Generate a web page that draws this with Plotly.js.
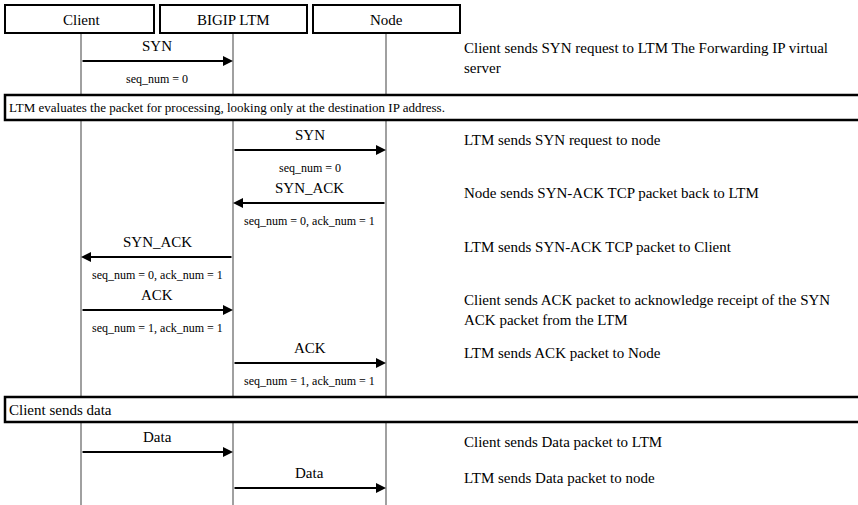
<!DOCTYPE html>
<html>
<head>
<meta charset="utf-8">
<script src="https://cdn.plot.ly/plotly-3.0.1.min.js"></script>
<style>html,body{margin:0;padding:0;background:#fff;}#chart{width:858px;height:505px;}</style>
</head>
<body>
<div id="chart"></div>
<script>
// ---- data ----
const participants = ["Client", "BIGIP LTM", "Node"];
const msgFrom = [0, 1, 2, 1, 0, 1, 0, 1];
const msgTo = [1, 2, 1, 0, 1, 2, 1, 2];
const msgLabels = ["SYN", "SYN", "SYN_ACK", "SYN_ACK", "ACK", "ACK", "Data", "Data"];
const msgParams = ["seq_num = 0", "seq_num = 0", "seq_num = 0, ack_num = 1", "seq_num = 0, ack_num = 1",
  "seq_num = 1, ack_num = 1", "seq_num = 1, ack_num = 1", "", ""];
const descriptions = [
  "Client sends SYN request to LTM The Forwarding IP virtual<br>server",
  "LTM sends SYN request to node",
  "Node sends SYN-ACK TCP packet back to LTM",
  "LTM sends SYN-ACK TCP packet to Client",
  "Client sends ACK packet to acknowledge receipt of the SYN<br>ACK packet from the LTM",
  "LTM sends ACK packet to Node",
  "Client sends Data packet to LTM",
  "LTM sends Data packet to node"
];
const notes = ["LTM evaluates the packet for processing, looking only at the destination IP address.", "Client sends data"];

// ---- layout (pixel geometry) ----
const W = 858, H = 505;
const laneX = [81, 233, 386];
const headBox = [[5, 154], [160, 307], [313, 460]];
const headTop = 5, headBottom = 33;
const arrowY = [61, 150, 203, 257, 310, 363, 452, 488];
const labelDy = -15, paramDy = 18;
const descY = [58, 140, 193, 247, 310, 353, 442, 478];
const descX = 462;
const noteTop = [95, 397], noteH = 25;
const noteFont = [13, 15];
const FONT = "Liberation Serif";

const shapes = [];
const annotations = [];

// lifelines
laneX.forEach(x => shapes.push({type: "line", xref: "x", yref: "y", x0: x, x1: x, y0: headBottom, y1: H,
  line: {color: "#808080", width: 1.5}}));

// header boxes
participants.forEach((p, i) => {
  shapes.push({type: "rect", xref: "x", yref: "y", x0: headBox[i][0], x1: headBox[i][1], y0: headTop, y1: headBottom,
    line: {color: "#000", width: 2}, fillcolor: "#fff"});
  annotations.push({x: laneX[i], y: (headTop + headBottom) / 2 + 1, xref: "x", yref: "y", text: p, showarrow: false,
    font: {family: FONT, size: 15, color: "#000"}, xanchor: "center", yanchor: "middle"});
});

// note boxes
notes.forEach((n, i) => {
  shapes.push({type: "rect", xref: "x", yref: "y", x0: 5, x1: W + 5, y0: noteTop[i], y1: noteTop[i] + noteH,
    line: {color: "#000", width: 2.5}, fillcolor: "#fff"});
  annotations.push({x: 7, y: noteTop[i] + noteH / 2, xref: "x", yref: "y", text: n, showarrow: false,
    font: {family: FONT, size: noteFont[i], color: "#000"}, xanchor: "left", yanchor: "middle"});
});

// messages
msgLabels.forEach((lab, i) => {
  const x0 = laneX[msgFrom[i]], x1 = laneX[msgTo[i]], y = arrowY[i];
  const mid = (x0 + x1) / 2;
  annotations.push({x: x1, y: y, ax: x0, ay: y, xref: "x", yref: "y", axref: "x", ayref: "y", text: "",
    showarrow: true, arrowhead: 2, arrowsize: 1, arrowwidth: 2, arrowcolor: "#000", standoff: 0, startstandoff: 0});
  annotations.push({x: mid, y: y + labelDy, xref: "x", yref: "y", text: lab, showarrow: false,
    font: {family: FONT, size: 15, color: "#000"}, xanchor: "center", yanchor: "middle"});
  if (msgParams[i]) {
    annotations.push({x: mid, y: y + paramDy, xref: "x", yref: "y", text: msgParams[i], showarrow: false,
      font: {family: FONT, size: 12, color: "#000"}, xanchor: "center", yanchor: "middle"});
  }
});

// descriptions
descriptions.forEach((d, i) => {
  annotations.push({x: descX, y: descY[i], xref: "x", yref: "y", text: d, showarrow: false, align: "left",
    font: {family: FONT, size: 15, color: "#000"}, xanchor: "left", yanchor: "middle"});
});

const layout = {
  width: W, height: H,
  margin: {l: 0, r: 0, t: 0, b: 0, pad: 0},
  paper_bgcolor: "#fff", plot_bgcolor: "#fff",
  showlegend: false,
  font: {family: FONT},
  xaxis: {range: [0, W], visible: false, fixedrange: true},
  yaxis: {range: [H, 0], visible: false, fixedrange: true},
  shapes: shapes,
  annotations: annotations
};

Plotly.newPlot("chart", [{x: [], y: [], type: "scatter", mode: "markers", hoverinfo: "skip"}], layout,
  {staticPlot: true, displayModeBar: false});
</script>
</body>
</html>
